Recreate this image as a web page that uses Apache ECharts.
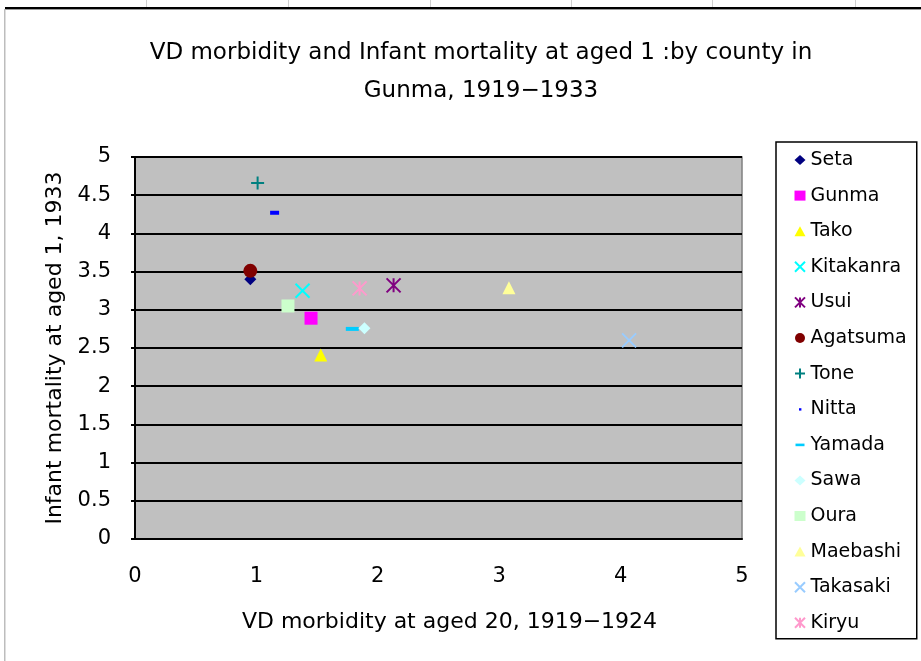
<!DOCTYPE html>
<html>
<head>
<meta charset="utf-8">
<script src="https://cdn.jsdelivr.net/npm/echarts@6/dist/echarts.min.js"></script>
<style>html,body{margin:0;padding:0;background:#fff}#c{width:921px;height:661px}</style>
</head>
<body>
<div id="c"></div>
<script>
var titleLines = ['VD morbidity and Infant mortality at aged 1 :by county in', 'Gunma, 1919\u22121933'];
var xName = 'VD morbidity at aged 20, 1919\u22121924';
var yName = 'Infant mortality at aged 1, 1933';
var counties = ['Seta','Gunma','Tako','Kitakanra','Usui','Agatsuma','Tone','Nitta','Yamada','Sawa','Oura','Maebashi','Takasaki','Kiryu'];
var xValues = [0.95, 1.45, 1.53, 1.38, 2.13, 0.95, 1.01, 1.15, 1.79, 1.89, 1.26, 3.08, 4.07, 1.85];
var yValues = [3.40, 2.89, 2.41, 3.25, 3.32, 3.51, 4.66, 4.27, 2.75, 2.76, 3.05, 3.29, 2.60, 3.28];
var colors = ['#000080','#FF00FF','#FFFF00','#00FFFF','#800080','#800000','#008080','#0000FF','#00CCFF','#CCFFFF','#CCFFCC','#FFFF99','#99CCFF','#FF99CC'];
var xTicks = [0,1,2,3,4,5];
var yTicks = [0,0.5,1,1.5,2,2.5,3,3.5,4,4.5,5];

var XP = 'path://M0,0L10,10M10,0L0,10';
var AST = 'path://M0,0L10,10M10,0L0,10M5,0L5,10';
var PLUS = 'path://M5,0L5,10M0,5L10,5';
var symbols = ['diamond','rect','triangle',XP,AST,'circle',PLUS,'rect','rect','diamond','rect','triangle',XP,AST];
var sizes = [[12,12],[13,13],[13,13],[14,14],[14,14],[14,14],[13,13],[9,4],[13,4],[12,12],[13,13],[13,13],[14,14],[14,14]];
var stroked = [false,false,false,true,true,false,true,false,false,false,false,false,true,true];
var legendIcons = {
  Nitta: 'path://M0,0L0,0M10,10L10,10M4,4H6.4V6.4H4Z',
  Yamada: 'path://M0,0L0,0M10,10L10,10M0.5,3.8H9.5V6.4H0.5Z'
};

var FONT = 'DejaVu Sans';
var series = counties.map(function(n, i){
  return {
    name: n, type: 'scatter',
    data: [[xValues[i], yValues[i]]],
    symbol: symbols[i], symbolSize: sizes[i],
    itemStyle: stroked[i] ? {color: colors[i], borderColor: colors[i], borderWidth: 2, opacity: 1} : {color: colors[i], opacity: 1},
    emphasis: {disabled: true}
  };
});
var legendData = counties.map(function(n){
  return legendIcons[n] ? {name: n, icon: legendIcons[n]} : {name: n};
});

var titleFont = '23px "DejaVu Sans"';
var graphics = [
  {type: 'text', x: 481, y: 53, style: {text: titleLines[0], font: titleFont, fill: '#000', textAlign: 'center', textVerticalAlign: 'middle'}, silent: true},
  {type: 'text', x: 481, y: 91, style: {text: titleLines[1], font: titleFont, fill: '#000', textAlign: 'center', textVerticalAlign: 'middle'}, silent: true},
  {type: 'rect', shape: {x: 5, y: 7, width: 916, height: 2}, style: {fill: '#000'}, silent: true},
  {type: 'rect', shape: {x: 5, y: 9, width: 916, height: 1}, style: {fill: '#9a9a9a'}, silent: true},
  {type: 'rect', shape: {x: 4, y: 9, width: 1.5, height: 652}, style: {fill: '#bdbdbd'}, silent: true}
];
[146, 288, 430, 571, 712, 855].forEach(function(x){
  graphics.push({type: 'rect', shape: {x: x, y: 0, width: 1, height: 7}, style: {fill: '#d0d0d0'}, silent: true});
});

var chart = echarts.init(document.getElementById('c'), null, {renderer: 'canvas'});
chart.setOption({
  animation: false,
  backgroundColor: '#ffffff',
  textStyle: {fontFamily: FONT},
  grid: {
    left: 135, right: 179, top: 157, bottom: 122, show: true,
    backgroundColor: '#C0C0C0', borderColor: '#808080', borderWidth: 1.5
  },
  xAxis: {
    type: 'value', min: 0, max: 5, interval: 1,
    name: xName, nameLocation: 'middle', nameGap: 72,
    nameTextStyle: {fontFamily: FONT, fontSize: 22, color: '#000', padding: [0,0,0,22]},
    axisLine: {show: true, onZero: false, lineStyle: {color: '#000', width: 2}},
    axisTick: {show: false},
    axisLabel: {fontFamily: FONT, fontSize: 21, color: '#000', margin: 27,
      formatter: function(v){ return xTicks.indexOf(v) >= 0 ? String(v) : ''; }},
    splitLine: {show: false}
  },
  yAxis: {
    type: 'value', min: 0, max: 5, interval: 0.5,
    name: yName, nameLocation: 'middle', nameGap: 64,
    nameTextStyle: {fontFamily: FONT, fontSize: 22, color: '#000'},
    axisLine: {show: true, onZero: false, lineStyle: {color: '#000', width: 2}},
    axisTick: {show: true, inside: false, length: 4, lineStyle: {color: '#000', width: 2}},
    axisLabel: {fontFamily: FONT, fontSize: 21, color: '#000', margin: 24,
      formatter: function(v){ return yTicks.indexOf(v) >= 0 ? String(v) : ''; }},
    splitLine: {show: true, lineStyle: {color: '#000', width: 2}}
  },
  legend: {
    orient: 'vertical', left: 776, top: 142,
    padding: [8, 10, 6, 18], itemGap: 15.6, itemWidth: 11, itemHeight: 10,
    borderColor: '#000', borderWidth: 1.5, backgroundColor: '#fff',
    textStyle: {fontFamily: FONT, fontSize: 19, color: '#000', lineHeight: 20},
    selectedMode: false,
    data: legendData
  },
  graphic: graphics,
  series: series
});
</script>
</body>
</html>
